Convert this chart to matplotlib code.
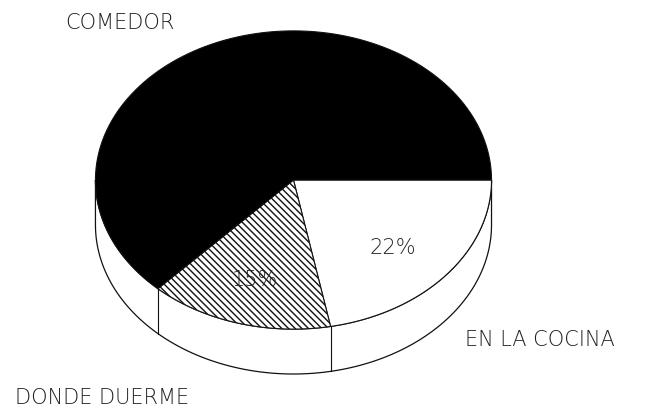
"""
3D-style pie chart (scanned report figure): where meals are eaten
"""

import numpy as np
import matplotlib.pyplot as plt
from matplotlib.patches import Polygon

# data, going clockwise from 3 o'clock
labels = ['EN LA COCINA', 'DONDE DUERME', 'COMEDOR']
shares = [22, 15, 63]
faces = ['white', 'white', 'black']
hatches = [None, '\\\\\\\\\\', None]

# ellipse geometry (x radius = 1)
RY = 0.753    # y radius of the top face
DEPTH = 0.227  # thickness of the disc
FS = 15
TXT = '#222222'

def arc(t0, t1, n=120, dy=0.0):
    t = np.radians(np.linspace(t0, t1, n))
    return np.column_stack([np.cos(t), RY * np.sin(t) - dy])

fig = plt.figure(figsize=(6.64, 4.15), dpi=100)
ax = fig.add_axes([0, 0, 1, 1])
ax.set_xlim(-1.482, 1.871)
ax.set_ylim(-1.187, 0.909)
ax.axis('off')

# slice angles (degrees, clockwise from 0)
edges = np.concatenate([[0], -np.cumsum(shares) * 3.6])

# side wall (front half only)
top = arc(-180, 0)
bot = arc(0, -180, dy=DEPTH)
ax.add_patch(Polygon(np.vstack([top, bot]), closed=True, fc='white',
                     ec='#111111', lw=0.9, zorder=1))
for a in edges:
    if -180 < a < 0:
        x, y = np.cos(np.radians(a)), RY * np.sin(np.radians(a))
        ax.plot([x, x], [y, y - DEPTH], color='#111111', lw=0.8, zorder=2)

# top face wedges
for i in range(len(shares)):
    pts = np.vstack([[0, 0], arc(edges[i], edges[i + 1])])
    ax.add_patch(Polygon(pts, closed=True, fc=faces[i], ec='#111111',
                         lw=0.8, hatch=hatches[i], zorder=3))

# percentage labels on the wedges
ax.text(0.503, -0.343, f'{shares[0]}%', fontsize=FS, ha='center', va='center',
        color=TXT, fontweight='light', zorder=5)
ax.text(-0.194, -0.505, f'{shares[1]}%', fontsize=FS, ha='center', va='center',
        color=TXT, fontweight='light', zorder=5)

# category labels
ax.text(-1.154, 0.793, labels[2], fontsize=FS, ha='left', va='center',
        color=TXT, fontweight='light')
ax.text(0.866, -0.808, labels[0], fontsize=FS, ha='left', va='center',
        color=TXT, fontweight='light')
ax.text(-1.407, -1.101, labels[1], fontsize=FS, ha='left', va='center',
        color=TXT, fontweight='light')

plt.savefig('out.png', dpi=100)
